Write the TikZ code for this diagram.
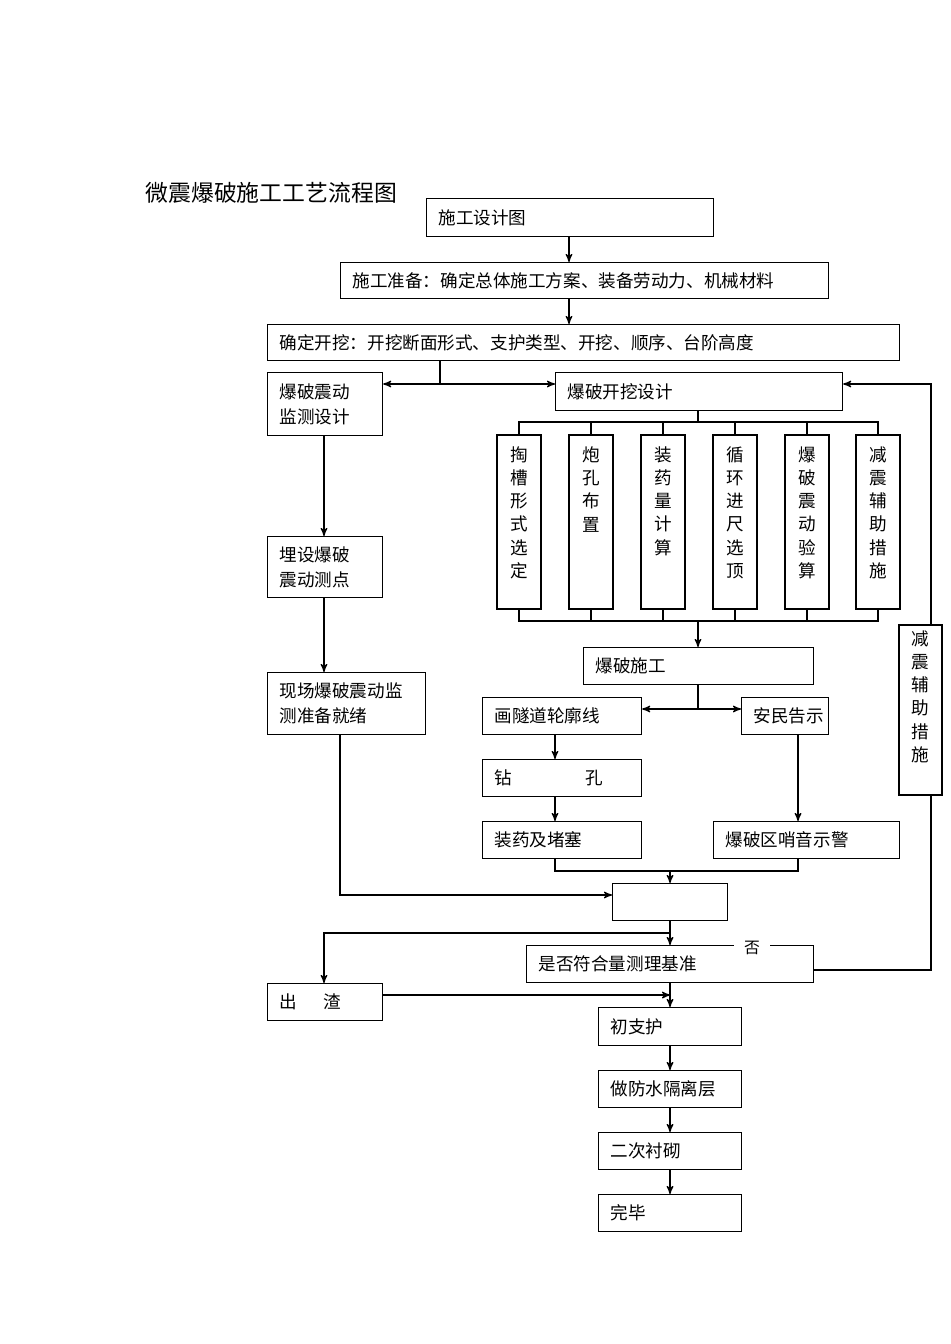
\documentclass[tikz,border=0pt]{standalone}
\usepackage{fontspec}
\newfontfamily\cjk{Noto Sans CJK SC}
\usetikzlibrary{arrows}
\tikzset{box/.style = {draw, line width=0.7pt, inner xsep=0.24cm, inner ysep=0pt, align=left, anchor=north west, font=\cjk\fontsize{10}{14}\selectfont},
  vtext/.style = {anchor=north, align=center, inner sep=0pt, font=\cjk\fontsize{10}{13.2}\selectfont}}
% box from pixel corners
\newcommand\bx[6]{\pgfmathsetmacro\bw{(#4-#2-24)*0.02}\pgfmathsetmacro\bh{(#5-#3)*0.02}
  \node[box, text width=\bw cm, minimum height=\bh cm] (#1) at (#2,#3) {#6};}
\newcommand\vbx[3]{\draw[line width=0.7pt] (#2,435) rectangle (#2+44,609);
  \coordinate (#1t) at (#2+22,435); \coordinate (#1b) at (#2+22,609);
  \node[vtext] (#1) at (#2+22,446) {#3};}

\begin{document}
\begin{tikzpicture}[x=0.02cm,y=-0.02cm,>=stealth',line width=0.7pt]
\useasboundingbox (0,0) rectangle (950,1344);

\node[anchor=west, inner sep=0, font=\cjk\fontsize{13}{15}\selectfont] (title) at (145,193) {微震爆破施工工艺流程图};

\bx{sjt}{426}{198}{713}{236}{施工设计图}
\bx{zb}{340}{262}{828}{298}{施工准备：确定总体施工方案、装备劳动力、机械材料}
\bx{kw}{267}{324}{899}{360}{确定开挖：开挖断面形式、支护类型、开挖、顺序、台阶高度}
\bx{jc}{267}{372}{382}{435}{爆破震动\\监测设计}
\bx{kwsj}{555}{372}{842}{410}{爆破开挖设计}
\vbx{v1}{497}{掏\\槽\\形\\式\\选\\定}
\vbx{v2}{569}{炮\\孔\\布\\置}
\vbx{v3}{641}{装\\药\\量\\计\\算}
\vbx{v4}{713}{循\\环\\进\\尺\\选\\顶}
\vbx{v5}{785}{爆\\破\\震\\动\\验\\算}
\vbx{v6}{856}{减\\震\\辅\\助\\措\\施}
\bx{mscd}{267}{536}{382}{597}{埋设爆破\\震动测点}
\bx{xc}{267}{672}{425}{734}{现场爆破震动监\\测准备就绪}
\bx{bpsg}{583}{647}{813}{684}{爆破施工}
\bx{hsd}{482}{697}{641}{734}{画隧道轮廓线}
\bx{amgs}{741}{697}{828}{734}{安民告示}
\bx{zk}{482}{759}{641}{796}{钻\hspace{4.2em}孔}
\bx{zy}{482}{821}{641}{858}{装药及堵塞}
\bx{bpq}{713}{821}{899}{858}{爆破区哨音示警}
\bx{kong}{612}{883}{727}{920}{}
\bx{sf}{526}{945}{813}{982}{是否符合量测理基准}
\bx{cz}{267}{983}{382}{1020}{出\hspace{1.5em}渣}
\bx{czh}{598}{1007}{741}{1045}{初支护}
\bx{fs}{598}{1070}{741}{1107}{做防水隔离层}
\bx{ec}{598}{1132}{741}{1169}{二次衬砌}
\bx{wb}{598}{1194}{741}{1231}{完毕}

\draw[->] (sjt.south -| 569,0) -- (zb.north -| 569,0);
\draw[->] (zb.south -| 569,0) -- (kw.north -| 569,0);
\draw (kw.south -| 440,0) -- (440,384);
\draw[->] (440,384) -- (jc.east |- 0,384);
\draw[->] (440,384) -- (kwsj.west |- 0,384);
\draw (kwsj.south -| 698,0) -- (698,422);
\draw (v1t) |- (698,422) -| (v6t);
\foreach \v in {v2,v3,v4,v5} \draw (\v t) -- (\v t |- 0,422);
\draw (v1b) |- (698,621) -| (v6b);
\foreach \v in {v2,v3,v4,v5} \draw (\v b) -- (\v b |- 0,621);
\draw[->] (698,621) -- (bpsg.north -| 698,0);
\draw[->] (jc.south -| 324,0) -- (mscd.north -| 324,0);
\draw[->] (mscd.south -| 324,0) -- (xc.north -| 324,0);
\draw (bpsg.south -| 698,0) -- (698,709);
\draw[->] (698,709) -- (hsd.east |- 0,709);
\draw[->] (698,709) -- (amgs.west |- 0,709);
\draw[->] (hsd.south -| 555,0) -- (zk.north -| 555,0);
\draw[->] (zk.south -| 555,0) -- (zy.north -| 555,0);
\draw[->] (amgs.south -| 798,0) -- (bpq.north -| 798,0);
\draw (zy.south -| 555,0) |- (798,871) -- (bpq.south -| 798,0);
\draw[->] (670,871) -- (kong.north -| 670,0);
\draw[->] (xc.south -| 340,0) |- (kong.west |- 0,895);
\draw[->] (kong.south -| 670,0) -- (sf.north -| 670,0);
\draw[->] (670,933) -| (cz.north -| 324,0);
\draw[->] (sf.east |- 0,970) -| (931,384) -- (kwsj.east |- 0,384);
\node[fill=white, font=\cjk\fontsize{9}{11}\selectfont, inner xsep=6pt, inner ysep=1pt] (fou) at (752,948) {否};
\draw[->] (sf.south -| 670,0) -- (czh.north -| 670,0);
\draw[->] (cz.east |- 0,995) -- (670,995);
\draw[->] (czh.south -| 670,0) -- (fs.north -| 670,0);
\draw[->] (fs.south -| 670,0) -- (ec.north -| 670,0);
\draw[->] (ec.south -| 670,0) -- (wb.north -| 670,0);
\draw[fill=white] (899,625) rectangle (942,795);
\node[vtext] (side) at (920,630) {减\\震\\辅\\助\\措\\施};
\end{tikzpicture}
\end{document}
